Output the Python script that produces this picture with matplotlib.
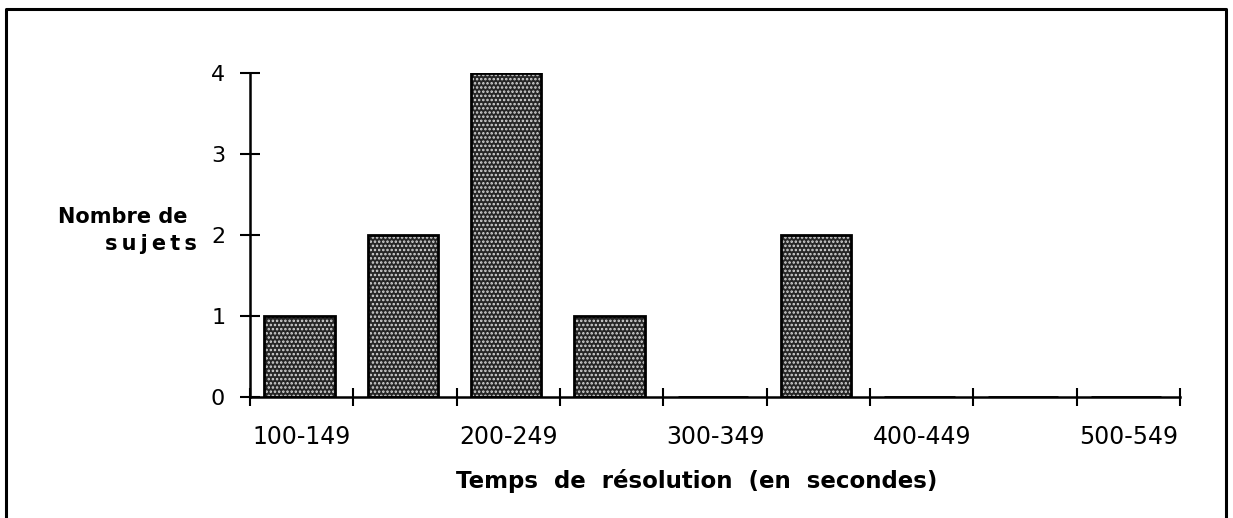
import numpy as np
import matplotlib.pyplot as plt
from matplotlib.lines import Line2D

plt.rcParams['font.family'] = 'DejaVu Sans'
plt.rcParams['hatch.linewidth'] = 1.2

# temps de resolution (classes de 50 s) et nombre de sujets
classes = ['100-149', '150-199', '200-249', '250-299', '300-349',
           '350-399', '400-449', '450-499', '500-549']
sujets = [1, 2, 4, 1, 0, 2, 0, 0, 0]
yticks = [0, 1, 2, 3, 4]

W, H = 1233, 518
fig = plt.figure(figsize=(W / 100, H / 100), dpi=100)
ax = fig.add_axes([250 / W, 1 - 397 / H, 930 / W, 324 / H])

x = np.arange(len(classes)) + 0.48
# fond noir avec points blancs, puis contour noir
ax.bar(x, sujets, width=0.68, color='#262626', edgecolor='#d8d8d8',
       hatch='....', linewidth=0)
ax.bar(x, sujets, width=0.68, fill=False, edgecolor='black', linewidth=2)

ax.set_xlim(0, len(classes))
ax.set_ylim(0, 4)
for s in ['top', 'right']:
    ax.spines[s].set_visible(False)
for s in ['left', 'bottom']:
    ax.spines[s].set_linewidth(1.8)

ax.set_xticks(np.arange(len(classes) + 1))
ax.set_xticklabels([])
ax.set_xticks(np.arange(0, len(classes), 2) + 0.5, minor=True)
ax.set_xticklabels(classes[::2], minor=True, fontsize=17)
ax.tick_params(axis='x', which='major', direction='inout', length=13, width=1.5)
ax.tick_params(axis='x', which='minor', length=0, pad=20)
ax.set_yticks(yticks)
ax.set_yticklabels([str(v) for v in yticks], fontsize=16)
ax.tick_params(axis='y', direction='inout', length=13.7, width=1.5, pad=11)

fig.text(697 / W, 1 - 488 / H, 'Temps  de  résolution  (en  secondes)',
         fontsize=16.5, fontweight='bold', ha='center', va='baseline')
fig.text(187 / W, 1 - 223 / H, 'Nombre de', fontsize=15, fontweight='bold',
         ha='right', va='baseline')
fig.text(197 / W, 1 - 250 / H, 's\u2009u\u2009j\u2009e\u2009t\u2009s',
         fontsize=15, fontweight='bold', ha='right', va='baseline')

# cadre exterieur (coupe en bas)
fx = [6 / W, 6 / W, 1226 / W, 1226 / W]
fy = [-0.05, 1 - 9 / H, 1 - 9 / H, -0.05]
fig.add_artist(Line2D(fx, fy, color='black', linewidth=2.2,
                      transform=fig.transFigure))

fig.savefig('out.png', dpi=100)
